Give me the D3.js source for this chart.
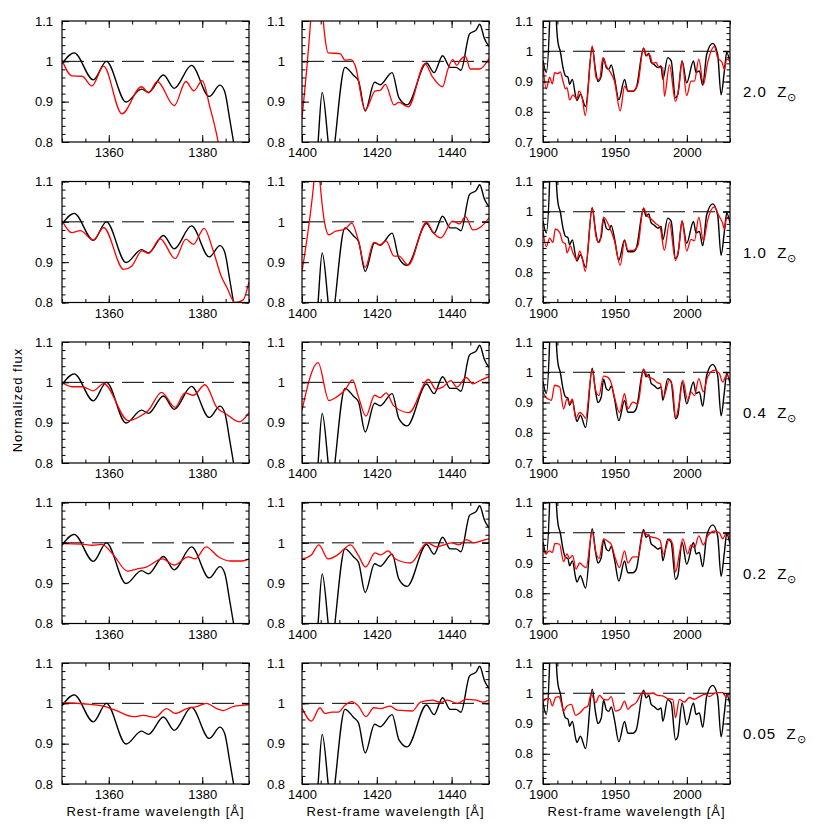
<!DOCTYPE html>
<html lang="en">
<head>
<meta charset="UTF-8" />
<script src="https://cdn.jsdelivr.net/npm/d3@7"></script>
<title>Normalized flux vs metallicity</title>
<style>
  body { margin: 0; background: #fff; }
  text { font-family: "Liberation Sans", Arial, sans-serif; fill: #000; }
</style>
</head>
<body>
<script>
// ---------------- data (wavelength [A], normalized flux) ----------------
// observed spectrum, identical in every row
const col1Black = [[1350,0.994],[1352.6,1.021],[1356.7,0.954],[1359.5,1.000],[1363.7,0.899],[1367.0,0.931],[1368.5,0.923],[1371.7,0.966],[1374.0,0.933],[1377.7,0.990],[1381.5,0.913],[1383.8,0.941],[1384.8,0.925],[1385.9,0.855],[1386.7,0.800],[1387.5,0.740]];
const col2Black = [[1403.5,0.70],[1404.3,0.800],[1405.4,0.923],[1407.0,0.800],[1407.9,0.72],[1408.8,0.800],[1411.5,0.985],[1413.8,0.965],[1415.1,0.952],[1416.9,0.877],[1419.4,0.948],[1420.9,0.942],[1424.1,0.972],[1425.9,0.910],[1428.1,0.892],[1433.3,0.996],[1435.3,0.972],[1437.6,1.014],[1439.6,0.985],[1441.2,0.985],[1442.5,0.978],[1444.8,1.068],[1446.6,1.078],[1447.5,1.092],[1448.8,1.056],[1450,1.037]];
const col3Black = [[1900,0.970],[1902.3,0.930],[1904.6,1.10],[1905.5,1.25],[1908.5,1.25],[1909.3,1.10],[1910.4,1.030],[1912.0,1.000],[1913.9,0.946],[1915.7,0.918],[1917.3,0.915],[1918.5,0.891],[1920.4,0.907],[1922.7,0.851],[1923.6,0.837],[1926.0,0.858],[1929.6,0.817],[1934.2,1.013],[1936.6,0.934],[1938.2,0.900],[1940.5,0.918],[1942.1,0.977],[1944.0,0.946],[1945.8,0.940],[1947.4,0.955],[1949.7,0.912],[1952.7,0.840],[1956.7,0.907],[1959.0,0.868],[1962.5,0.868],[1964.8,0.879],[1969.9,1.010],[1971.7,0.985],[1973.6,0.993],[1975.2,0.963],[1977.5,0.955],[1979.8,0.946],[1982.1,0.951],[1983.3,0.907],[1986.7,0.979],[1989.1,0.968],[1992.1,0.846],[1993.7,0.857],[1996.7,0.968],[1999.9,0.896],[2004.6,0.968],[2006.4,0.930],[2008.7,0.935],[2011.0,0.888],[2013.8,0.990],[2018.0,1.026],[2021.4,0.990],[2023.8,0.856],[2026.1,0.935],[2027.7,0.996],[2030,0.963]];

// model spectra, one per metallicity
const red1_20 = [[1350,1.003],[1352.1,0.964],[1354.3,0.963],[1356.4,0.939],[1358.9,0.988],[1362.8,0.870],[1367.0,0.937],[1368.5,0.922],[1370.4,0.950],[1374.0,0.890],[1376.5,0.950],[1378.2,0.927],[1380.0,0.952],[1381.6,0.888],[1383.4,0.800],[1384.5,0.72]];
const red1_10 = [[1350,1.003],[1352.1,0.973],[1353.9,0.978],[1356.7,0.955],[1358.9,0.986],[1363.2,0.882],[1364.9,0.890],[1367.1,0.928],[1368.5,0.922],[1371.0,0.958],[1374.2,0.909],[1376.5,0.957],[1378.1,0.944],[1380.4,0.984],[1382.3,0.930],[1384.1,0.864],[1385.2,0.839],[1387.0,0.800],[1388.7,0.806],[1390,0.851]];
const red1_04 = [[1350,1.000],[1352.1,0.989],[1354.3,0.989],[1356.7,0.979],[1358.9,0.997],[1364.2,0.905],[1366.7,0.916],[1368.5,0.931],[1371.3,0.975],[1374.2,0.938],[1376.3,0.974],[1378.1,0.968],[1380.6,0.994],[1383.1,0.938],[1385.2,0.921],[1387.9,0.902],[1390,0.925]];
const red1_02 = [[1350,0.998],[1354.0,0.997],[1356.5,0.994],[1358.5,0.996],[1361.0,0.970],[1364.0,0.930],[1366.0,0.935],[1368.0,0.940],[1371.5,0.960],[1374.0,0.945],[1377.0,0.965],[1378.5,0.960],[1380.8,0.990],[1383.5,0.965],[1386.0,0.955],[1388.5,0.955],[1390,0.960]];
const red1_005 = [[1350,1.002],[1354.6,0.999],[1358.9,0.993],[1361.4,0.983],[1365.3,0.967],[1367.4,0.970],[1369.9,0.965],[1372.4,0.987],[1374.2,0.975],[1376.7,0.987],[1378.8,0.992],[1380.9,1.000],[1383.1,0.987],[1384.5,0.982],[1386.6,0.992],[1390,0.996]];

const red2_20 = [[1400,0.860],[1402.3,1.100],[1403.0,1.20],[1405.0,1.20],[1405.7,1.100],[1406.3,1.048],[1407.0,1.021],[1410.2,1.019],[1411.5,1.003],[1413.1,1.004],[1414.2,0.990],[1416.9,0.879],[1419.6,0.927],[1420.9,0.928],[1422.3,0.943],[1424.6,0.892],[1425.9,0.898],[1428.4,0.887],[1432.9,0.994],[1434.9,0.961],[1437.6,0.937],[1438.9,0.977],[1440.3,1.004],[1441.4,0.990],[1442.4,1.004],[1443.7,1.012],[1445.0,0.981],[1447.5,0.981],[1450,1.007]];
const red2_10 = [[1400,0.877],[1403.2,1.100],[1403.8,1.16],[1404.3,1.16],[1404.8,1.100],[1406.1,0.995],[1407.2,0.968],[1408.8,0.976],[1411.5,0.982],[1413.3,0.997],[1415.1,0.953],[1416.9,0.887],[1419.2,0.949],[1420.9,0.943],[1422.5,0.953],[1424.6,0.915],[1425.9,0.915],[1428.4,0.893],[1433.3,0.999],[1434.9,0.976],[1437.1,0.960],[1440.3,1.002],[1442.1,0.995],[1443.7,1.013],[1445.7,0.980],[1447.9,0.988],[1450,1.010]];
const red2_04 = [[1400,0.931],[1404.3,1.049],[1407.2,0.955],[1409.3,0.964],[1411.5,0.981],[1413.5,1.006],[1415.1,0.964],[1417.1,0.916],[1419.4,0.968],[1420.9,0.962],[1422.5,0.974],[1424.6,0.941],[1428.6,0.925],[1433.8,1.007],[1435.8,0.983],[1437.6,0.988],[1439.8,1.004],[1441.4,0.988],[1443.9,1.012],[1445.7,0.996],[1447.5,1.004],[1450,1.014]];
const red2_02 = [[1400,0.960],[1402.5,0.970],[1404.5,0.995],[1407.0,0.960],[1409.5,0.970],[1413.0,0.995],[1415.0,0.970],[1417.0,0.940],[1419.5,0.975],[1421.0,0.970],[1423.0,0.980],[1425.0,0.960],[1429.0,0.950],[1433.5,1.000],[1436.0,0.990],[1438.0,0.995],[1440.0,1.000],[1442.0,0.995],[1444.0,1.008],[1446.0,1.000],[1448.0,1.005],[1450,1.010]];
const red2_005 = [[1400,0.989],[1402.5,0.956],[1404.8,0.989],[1406.1,0.975],[1407.9,0.978],[1409.7,0.978],[1411.5,0.995],[1413.3,1.004],[1415.1,0.993],[1417.1,0.967],[1419.2,0.989],[1420.9,0.987],[1423.6,0.993],[1425.5,0.983],[1429.5,0.981],[1431.7,1.003],[1434.9,1.008],[1437.1,1.002],[1438.9,1.008],[1441.6,1.000],[1443.9,1.010],[1446.6,1.008],[1448.4,1.003],[1450,1.008]];

const red3_20 = [[1900,0.952],[1902.3,0.876],[1904.6,0.914],[1906.5,0.892],[1908.1,0.929],[1910.4,0.926],[1912.0,0.932],[1913.9,0.901],[1915.7,0.876],[1916.7,0.880],[1918.5,0.839],[1920.8,0.856],[1923.6,0.842],[1925.0,0.868],[1927.3,0.845],[1929.4,0.787],[1934.2,1.018],[1937.0,0.912],[1939.3,0.906],[1941.6,0.979],[1944.0,0.951],[1946.3,0.935],[1949.7,0.901],[1953.7,0.803],[1956.7,0.885],[1959.0,0.868],[1962.5,0.868],[1965.9,0.891],[1969.9,1.010],[1972.2,0.985],[1974.0,0.990],[1976.3,0.960],[1978.7,0.963],[1980.5,0.946],[1983.3,0.946],[1984.4,0.851],[1987.9,0.955],[1992.1,0.834],[1994.4,0.879],[1996.7,0.968],[1999.9,0.853],[2002.9,0.901],[2005.3,0.901],[2008.3,0.974],[2011.5,0.890],[2014.5,0.963],[2019.1,1.015],[2021.4,0.979],[2024.5,0.963],[2026.1,0.940],[2027.7,0.974],[2030,0.968]];
const red3_10 = [[1900,0.937],[1902.3,0.884],[1904.6,0.913],[1906.9,0.898],[1908.6,0.943],[1911.6,0.932],[1913.9,0.898],[1915.5,0.895],[1916.7,0.864],[1919.0,0.887],[1920.8,0.864],[1923.6,0.842],[1925.5,0.870],[1927.3,0.848],[1929.4,0.803],[1934.2,1.013],[1937.0,0.915],[1939.3,0.898],[1942.1,0.982],[1945.8,0.954],[1949.7,0.904],[1953.7,0.823],[1956.7,0.904],[1959.0,0.872],[1962.5,0.872],[1965.9,0.887],[1969.9,1.013],[1972.2,0.988],[1975.2,0.976],[1978.7,0.960],[1981.4,0.948],[1984.4,0.872],[1987.9,0.965],[1992.1,0.839],[1994.4,0.881],[1996.7,0.971],[1999.9,0.870],[2002.9,0.909],[2005.3,0.904],[2008.3,0.982],[2011.5,0.904],[2014.5,0.973],[2019.1,1.016],[2022.1,0.988],[2024.9,0.962],[2026.1,0.943],[2027.7,0.982],[2030,0.973]];
const red3_04 = [[1900,0.935],[1901.9,0.918],[1903.5,0.912],[1905.8,0.907],[1908.1,0.957],[1911.6,0.951],[1914.3,0.879],[1916.7,0.912],[1918.5,0.896],[1920.4,0.912],[1922.7,0.848],[1925.5,0.867],[1927.8,0.859],[1929.6,0.848],[1934.2,1.007],[1936.6,0.940],[1938.9,0.923],[1942.1,0.987],[1945.1,0.983],[1947.4,0.965],[1949.7,0.918],[1953.2,0.867],[1956.7,0.929],[1959.0,0.879],[1962.5,0.901],[1965.9,0.895],[1969.9,1.009],[1972.9,0.985],[1976.3,0.979],[1979.8,0.965],[1981.4,0.963],[1983.7,0.918],[1987.9,0.974],[1990.2,0.946],[1992.1,0.848],[1994.8,0.901],[1997.2,0.974],[2000.6,0.907],[2002.9,0.935],[2005.3,0.923],[2008.3,0.979],[2011.5,0.935],[2014.5,0.985],[2019.1,1.007],[2022.6,0.996],[2024.9,0.968],[2027.7,0.991],[2030,0.974]];
const red3_02 = [[1900,0.950],[1902.0,0.930],[1904.5,0.940],[1906.5,0.935],[1908.3,0.965],[1911.5,0.962],[1914.3,0.905],[1916.7,0.930],[1918.5,0.915],[1920.5,0.925],[1923.0,0.880],[1925.5,0.900],[1928.0,0.890],[1930.0,0.885],[1934.2,1.003],[1936.8,0.935],[1939.0,0.915],[1942.1,0.980],[1945.0,0.972],[1947.4,0.962],[1950.0,0.920],[1953.2,0.885],[1956.7,0.940],[1959.0,0.900],[1962.5,0.920],[1965.9,0.920],[1969.9,1.003],[1973.0,0.990],[1976.3,0.985],[1979.8,0.980],[1981.4,0.975],[1983.7,0.930],[1987.9,0.980],[1990.2,0.960],[1992.1,0.870],[1994.8,0.930],[1997.2,0.980],[2000.6,0.930],[2002.9,0.960],[2005.3,0.950],[2008.3,0.990],[2011.5,0.960],[2014.5,0.990],[2019.1,1.005],[2022.6,1.000],[2024.9,0.980],[2027.7,1.000],[2030,0.985]];
const red3_005 = [[1900,0.969],[1901.9,0.982],[1904.6,0.982],[1906.5,0.958],[1908.8,0.986],[1911.1,0.989],[1912.7,0.969],[1914.3,0.941],[1916.7,0.958],[1919.7,0.963],[1922.7,0.927],[1925.9,0.936],[1928.9,0.952],[1931.2,0.958],[1933.5,0.997],[1936.6,0.969],[1939.3,0.993],[1942.1,0.980],[1945.1,0.978],[1947.4,0.989],[1950.4,0.941],[1953.7,0.947],[1956.7,0.974],[1959.0,0.947],[1961.3,0.958],[1964.8,0.969],[1969.4,1.004],[1972.9,0.997],[1976.3,1.000],[1979.8,0.993],[1983.3,0.991],[1986.7,0.982],[1990.2,0.980],[1992.1,0.919],[1994.8,0.980],[1998.3,0.971],[2001.8,0.986],[2005.3,0.980],[2008.7,0.989],[2012.9,0.997],[2015.7,0.989],[2020.3,1.002],[2024.9,1.002],[2027.2,0.989],[2030,1.000]];

const metallicities = ["2.0", "1.0", "0.4", "0.2", "0.05"];

// axis settings per column
const xDomains = [[1350, 1390], [1400, 1450], [1900, 2030]];
const yDomains = [[0.8, 1.1], [0.8, 1.1], [0.7, 1.1]];
const xMajor = [[1360, 1380], [1400, 1420, 1440], [1900, 1950, 2000]];
const xMinorStep = [5, 5, 10];
const yMajor = [[0.8, 0.9, 1.0, 1.1], [0.8, 0.9, 1.0, 1.1], [0.7, 0.8, 0.9, 1.0, 1.1]];

const blacks = [col1Black, col2Black, col3Black];
const reds = [
  [red1_20, red1_10, red1_04, red1_02, red1_005],
  [red2_20, red2_10, red2_04, red2_02, red2_005],
  [red3_20, red3_10, red3_04, red3_02, red3_005],
];

// ---------------- layout ----------------
const width = 817, height = 830;
const colX = [62, 302, 543], colW = 187;
const rowY = [21, 181.5, 342, 502.5, 663], rowH = 121;
const yLabelPad = [9, 17, 10];
const majorLen = 7, minorLen = 3.5;

const svg = d3.select("body").append("svg")
  .attr("width", width).attr("height", height);

const fmt = v => String(+v.toFixed(2));

colX.forEach((cx, c) => {
  const x = d3.scaleLinear().domain(xDomains[c]).range([0, colW]);
  const y = d3.scaleLinear().domain(yDomains[c]).range([rowH, 0]);
  const xMinor = d3.range(xDomains[c][0], xDomains[c][1] + 0.001, xMinorStep[c]);
  const yMinor = d3.range(0, 21).map(i => yDomains[c][0] + i * 0.02).filter(v => v <= yDomains[c][1] + 1e-6);
  const line = d3.line().x(d => x(d[0])).y(d => y(d[1])).curve(d3.curveMonotoneX);

  rowY.forEach((ry, r) => {
    const g = svg.append("g").attr("transform", `translate(${cx},${ry})`);
    const clipId = `clip-${c}-${r}`;
    g.append("clipPath").attr("id", clipId)
      .append("rect").attr("width", colW).attr("height", rowH);

    const plot = g.append("g").attr("clip-path", `url(#${clipId})`);
    plot.append("line")
      .attr("x1", 0).attr("x2", colW).attr("y1", y(1)).attr("y2", y(1))
      .attr("stroke", "#000").attr("stroke-width", 1)
      .attr("stroke-dasharray", "22,8");
    plot.append("path").datum(blacks[c])
      .attr("d", line).attr("fill", "none")
      .attr("stroke", "#000").attr("stroke-width", 1.4);
    plot.append("path").datum(reds[c][r])
      .attr("d", line).attr("fill", "none")
      .attr("stroke", "#ff0000").attr("stroke-width", 1.3);

    // ticks on all four sides, pointing inward
    const addAxis = (axis, tx, ty) => {
      const a = g.append("g").attr("transform", `translate(${tx},${ty})`).call(axis);
      a.select(".domain").remove();
      a.selectAll("line").attr("stroke", "#000");
      a.selectAll("text").style("font-size", "13px")
        .style("font-family", '"Liberation Sans", Arial, sans-serif');
      return a;
    };
    addAxis(d3.axisBottom(x).tickValues(xMinor).tickSize(-minorLen).tickFormat(""), 0, rowH);
    addAxis(d3.axisTop(x).tickValues(xMinor).tickSize(-minorLen).tickFormat(""), 0, 0);
    addAxis(d3.axisBottom(x).tickValues(xMajor[c]).tickSize(-majorLen).tickPadding(6).tickFormat(d3.format("d")), 0, rowH);
    addAxis(d3.axisTop(x).tickValues(xMajor[c]).tickSize(-majorLen).tickFormat(""), 0, 0);
    addAxis(d3.axisLeft(y).tickValues(yMinor).tickSize(-minorLen).tickFormat(""), 0, 0);
    addAxis(d3.axisRight(y).tickValues(yMinor).tickSize(-minorLen).tickFormat(""), colW, 0);
    addAxis(d3.axisLeft(y).tickValues(yMajor[c]).tickSize(-majorLen).tickPadding(yLabelPad[c]).tickFormat(fmt), 0, 0);
    addAxis(d3.axisRight(y).tickValues(yMajor[c]).tickSize(-majorLen).tickFormat(""), colW, 0);

    g.append("rect").attr("width", colW).attr("height", rowH)
      .attr("fill", "none").attr("stroke", "#000").attr("stroke-width", 1.2);

    if (c === 2) {
      const t = svg.append("text")
        .attr("x", cx + colW + 13).attr("y", ry + 76)
        .style("font-size", "15px").style("letter-spacing", "1px");
      t.append("tspan").text(metallicities[r] + "\u00a0 Z");
      t.append("tspan").attr("dy", 4).style("font-size", "11px").text("\u2299");
    }
  });

  svg.append("text")
    .attr("x", cx + colW / 2).attr("y", 816)
    .attr("text-anchor", "middle")
    .style("font-size", "13px").style("letter-spacing", "1px")
    .text("Rest-frame wavelength [\u00c5]");
});

svg.append("text")
  .attr("transform", `translate(22,400) rotate(-90)`)
  .attr("text-anchor", "middle")
  .style("font-size", "13px").style("letter-spacing", "1px")
  .text("Normalized flux");
</script>
</body>
</html>
